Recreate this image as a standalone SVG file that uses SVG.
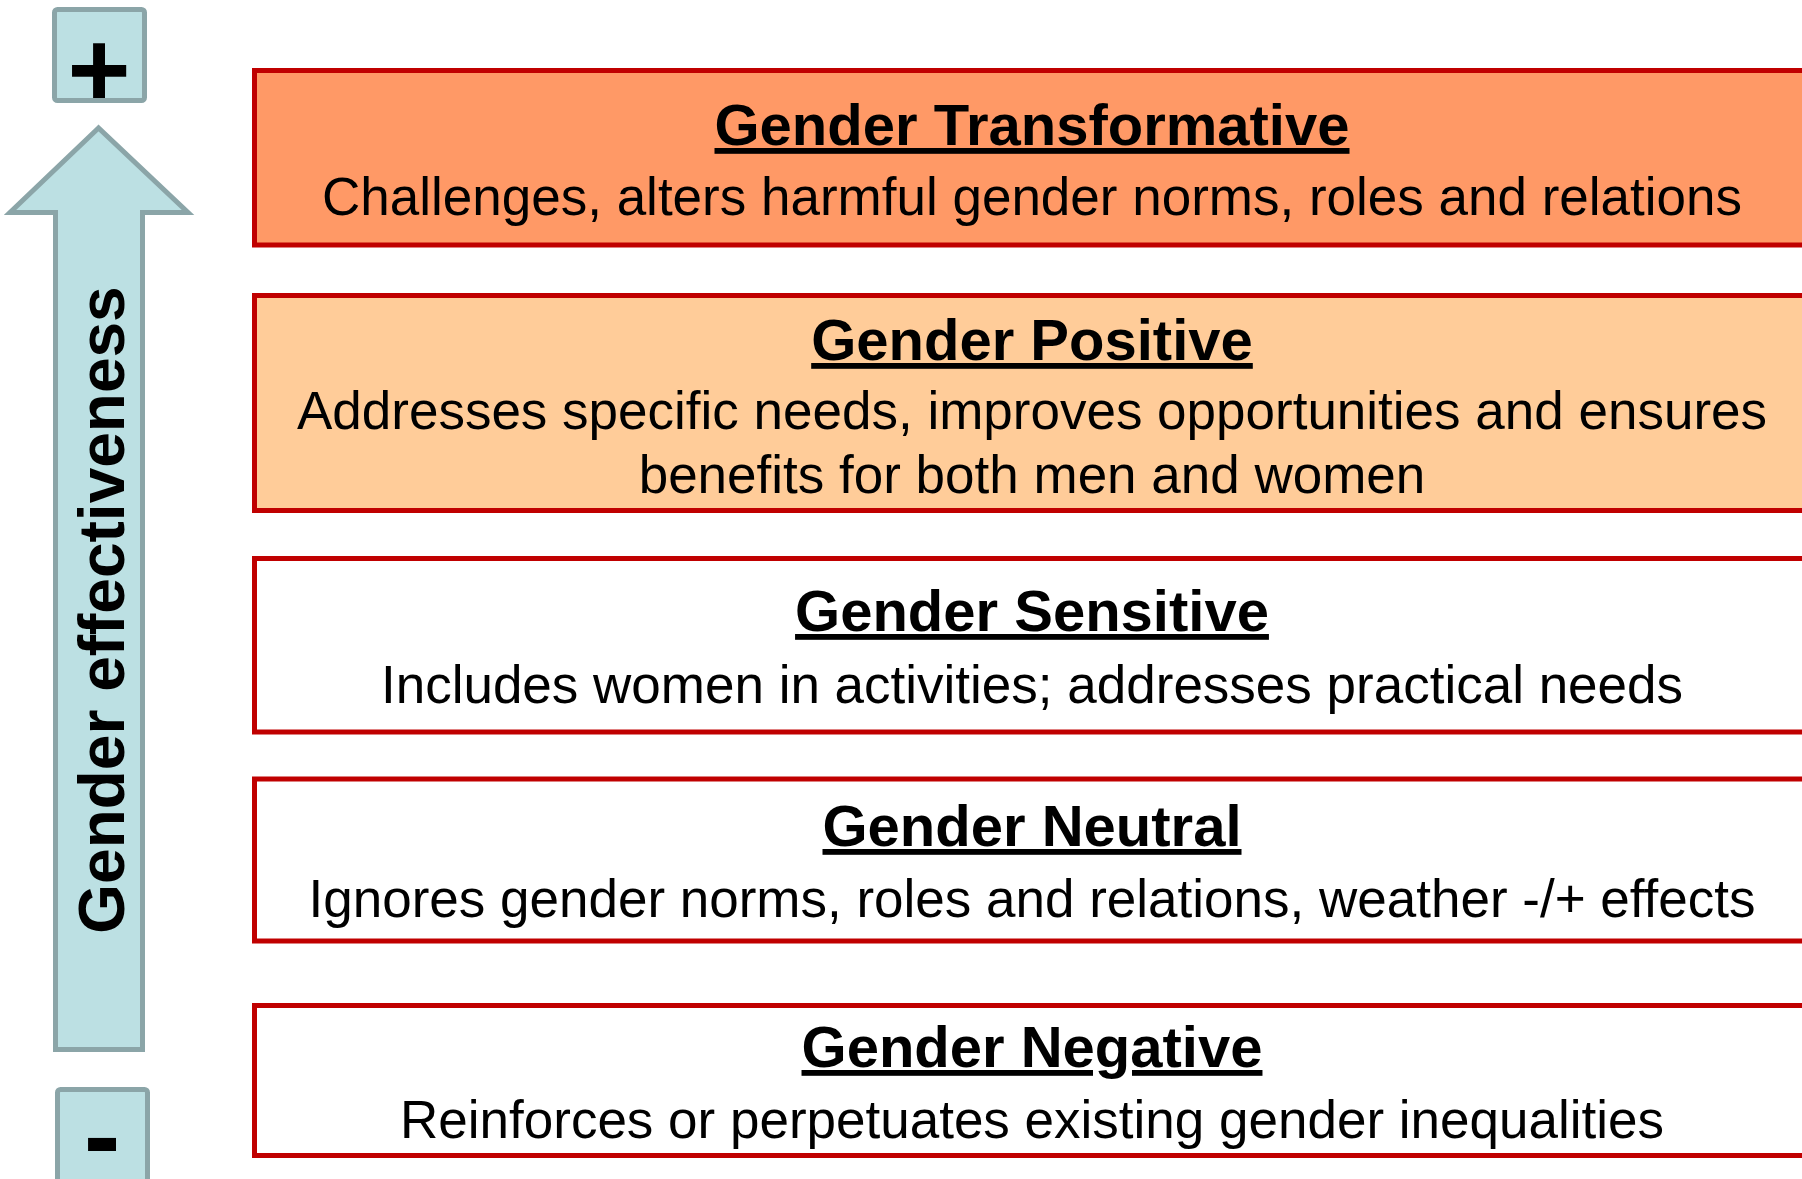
<svg xmlns="http://www.w3.org/2000/svg" width="1802" height="1179" viewBox="0 0 1802 1179">
<style>
.box{stroke:#C00000;stroke-width:5}
.ttl{font-family:"Liberation Sans",Arial,sans-serif;font-weight:bold;font-size:58px;text-anchor:middle;text-decoration:underline;fill:#000}
.body{font-family:"Liberation Sans",Arial,sans-serif;font-size:53px;text-anchor:middle;fill:#000}
.side{fill:#BCE0E3;stroke:#8BA5A8;stroke-width:5}
.sym{font-family:"Liberation Sans",Arial,sans-serif;font-weight:bold;text-anchor:middle;fill:#000}
</style>
<rect width="1802" height="1179" fill="#FFFFFF"/>
<g id="plus">
<rect class="side" x="54.5" y="9.5" width="90" height="91" rx="3"/>
<text class="sym" x="99" y="106" font-size="108">+</text>
</g>
<g id="minus">
<rect class="side" x="57.5" y="1089.5" width="90" height="100" rx="3"/>
<text class="sym" x="102" y="1173" font-size="110">-</text>
</g>
<g id="arrow">
<polygon class="side" points="98.5,128 10,212.5 55.5,212.5 55.5,1049.5 142.5,1049.5 142.5,212.5 188,212.5"/>
<text class="sym" font-size="64" transform="translate(124,610) rotate(-90)" x="0" y="0">Gender effectiveness</text>
</g>
<g id="transformative">
<rect class="box" x="254.5" y="70.5" width="1556" height="174.5" fill="#FF9966"/>
<text class="ttl" x="1032" y="145">Gender Transformative</text>
<text class="body" x="1032" y="215">Challenges, alters harmful gender norms, roles and relations</text>
</g>
<g id="positive">
<rect class="box" x="254.5" y="295.5" width="1556" height="215" fill="#FFCC99"/>
<text class="ttl" x="1032" y="360">Gender Positive</text>
<text class="body" x="1032" y="429">Addresses specific needs, improves opportunities and ensures</text>
<text class="body" x="1032" y="493">benefits for both men and women</text>
</g>
<g id="sensitive">
<rect class="box" x="254.5" y="558.5" width="1556" height="173.5" fill="#FFFFFF"/>
<text class="ttl" x="1032" y="631">Gender Sensitive</text>
<text class="body" x="1032" y="703">Includes women in activities; addresses practical needs</text>
</g>
<g id="neutral">
<rect class="box" x="254.5" y="779" width="1556" height="162" fill="#FFFFFF"/>
<text class="ttl" x="1032" y="846">Gender Neutral</text>
<text class="body" x="1032" y="917">Ignores gender norms, roles and relations, weather -/+ effects</text>
</g>
<g id="negative">
<rect class="box" x="254.5" y="1005.5" width="1556" height="150" fill="#FFFFFF"/>
<text class="ttl" x="1032" y="1067">Gender Negative</text>
<text class="body" x="1032" y="1138">Reinforces or perpetuates existing gender inequalities</text>
</g>
<g id="connectors"></g>
</svg>
